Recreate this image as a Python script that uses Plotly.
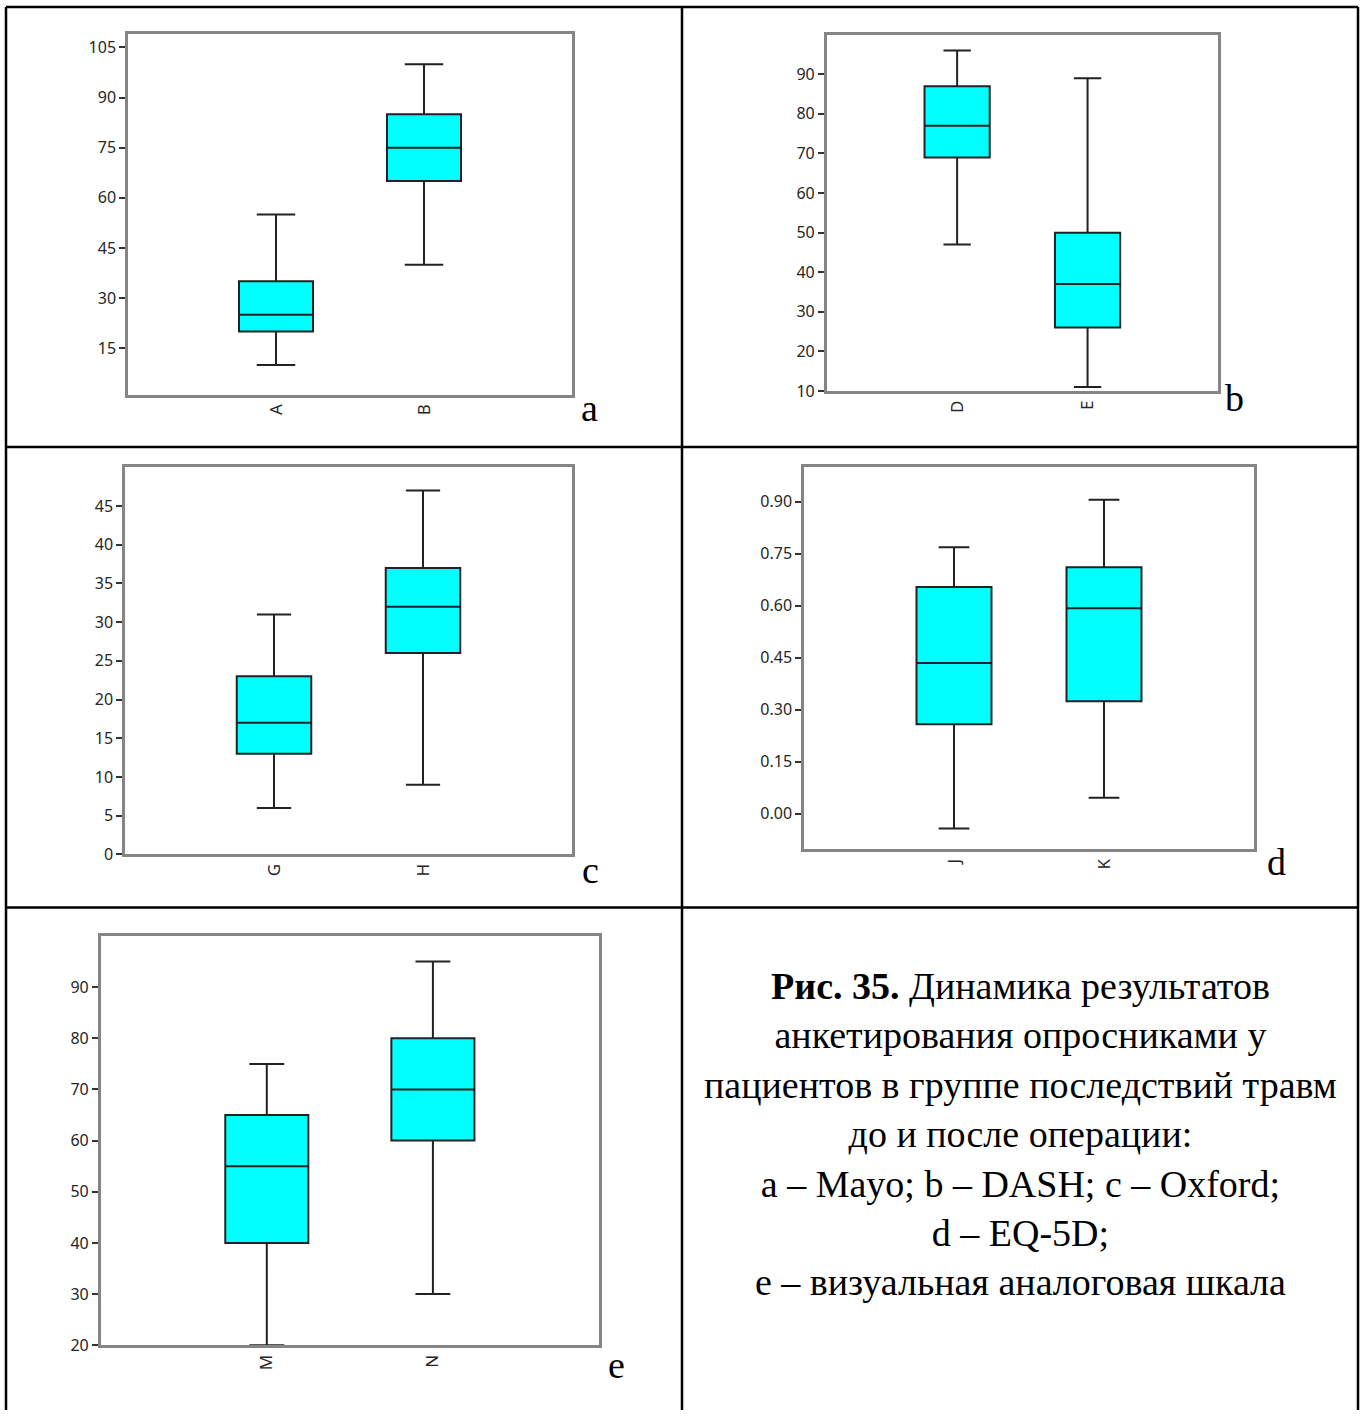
import plotly.graph_objects as go

W, H = 1365, 1421

# ---- data ----
cats_a = ["A", "B"]
a_low = [10, 40]; a_q1 = [20, 65]; a_med = [25, 75]; a_q3 = [35, 85]; a_high = [55, 100]
a_ticks = [15, 30, 45, 60, 75, 90, 105]

cats_b = ["D", "E"]
b_low = [47, 11]; b_q1 = [69, 26]; b_med = [77, 37]; b_q3 = [87, 50]; b_high = [96, 89]
b_ticks = [10, 20, 30, 40, 50, 60, 70, 80, 90]

cats_c = ["G", "H"]
c_low = [6, 9]; c_q1 = [13, 26]; c_med = [17, 32]; c_q3 = [23, 37]; c_high = [31, 47]
c_ticks = [0, 5, 10, 15, 20, 25, 30, 35, 40, 45]

cats_d = ["J", "K"]
d_low = [-0.043, 0.046]; d_q1 = [0.258, 0.324]; d_med = [0.435, 0.593]; d_q3 = [0.654, 0.711]; d_high = [0.769, 0.906]
d_ticks = [0.0, 0.15, 0.30, 0.45, 0.60, 0.75, 0.90]

cats_e = ["M", "N"]
e_low = [20, 30]; e_q1 = [40, 60]; e_med = [55, 70]; e_q3 = [65, 80]; e_high = [75, 95]
e_ticks = [20, 30, 40, 50, 60, 70, 80, 90]

caption_lines = [
    "<b>Рис. 35.</b> Динамика результатов",
    "анкетирования опросниками у",
    "пациентов в группе последствий травм",
    "до и после операции:",
    "a – Mayo; b – DASH; c – Oxford;",
    "d – EQ-5D;",
    "e – визуальная аналоговая шкала",
]
panel_letters = ["a", "b", "c", "d", "e"]

# ---- layout geometry (pixels) ----
def px(x):
    return x / W

def py(y):
    return 1 - y / H

panels = [
    # (cats, low, q1, med, q3, high, ticks, yrange, domain px (l, t, r, b), tickformat, whiskerwidth)
    (cats_a, a_low, a_q1, a_med, a_q3, a_high, a_ticks, [1.1, 109.1], (128, 34, 572, 397.7), None, 0.52),
    (cats_b, b_low, b_q1, b_med, b_q3, b_high, b_ticks, [10, 100], (826.7, 35, 1218, 394), None, 0.42),
    (cats_c, c_low, c_q1, c_med, c_q3, c_high, c_ticks, [0, 50], (125, 471, 572, 861), None, 0.46),
    (cats_d, d_low, d_q1, d_med, d_q3, d_high, d_ticks, [-0.103, 1.0], (804, 470.7, 1254, 856), ".2f", 0.41),
    (cats_e, e_low, e_q1, e_med, e_q3, e_high, e_ticks, [20, 100], (100.7, 943.3, 599, 1355.7), None, 0.42),
]

fig = go.Figure()
AX_COLOR = "#858585"
Y_FONT = dict(family="Noto Sans", size=16, color="#262626")
X_FONT = dict(family="Noto Sans", size=17, color="#262626")

for i, (cats, lo, q1, med, q3, hi, ticks, yr, dom, tf, ww) in enumerate(panels):
    n = "" if i == 0 else str(i + 1)
    fig.add_trace(go.Box(
        x=cats, q1=q1, median=med, q3=q3, lowerfence=lo, upperfence=hi,
        boxpoints=False, width=0.5, whiskerwidth=ww,
        fillcolor="#00ffff", line=dict(color="#222222", width=2),
        xaxis="x" + n, yaxis="y" + n, showlegend=False, hoverinfo="skip",
    ))
    l, t, r, b = dom
    fig.layout["xaxis" + n] = dict(
        domain=[px(l), px(r)], anchor="y" + n, type="category",
        range=[-1, 2], showline=True, mirror=True, linecolor=AX_COLOR, linewidth=2.5,
        showgrid=False, zeroline=False, ticks="", tickangle=-90,
        tickfont=X_FONT,
    )
    fig.layout["yaxis" + n] = dict(
        domain=[py(b), py(t)], anchor="x" + n, range=yr,
        showline=True, mirror=True, linecolor=AX_COLOR, linewidth=2.5,
        showgrid=False, zeroline=False, ticks="outside", ticklen=6,
        tickwidth=1.5, tickcolor="#333333", tickvals=ticks,
        tickformat=tf, tickfont=Y_FONT,
    )

# table borders
shapes = []
lines = [
    (6, 7, 1358, 7), (6, 7, 6, 1421), (1358, 7, 1358, 1421), (682, 7, 682, 1421),
    (6, 450.5, 1358, 450.5), (6, 914.5, 1358, 914.5),
]
for x0, y0, x1, y1 in lines:
    shapes.append(dict(type="line", xref="paper", yref="paper",
                       x0=px(x0), y0=py(y0), x1=px(x1), y1=py(y1),
                       line=dict(color="black", width=2.5)))
fig.update_layout(shapes=shapes)

SERIF = "Liberation Serif"
letter_pos = [(589, 411), (1234, 401), (590, 877), (1276, 869), (616, 1376)]
for letter, (x, y) in zip(panel_letters, letter_pos):
    fig.add_annotation(text=letter, x=px(x), y=py(y), xref="paper", yref="paper",
                       showarrow=False, xanchor="center", yanchor="middle",
                       font=dict(family=SERIF, size=38, color="black"))

fig.add_annotation(text="<br>".join(caption_lines), x=px(1020), y=py(1143),
                   xref="paper", yref="paper", showarrow=False,
                   xanchor="center", yanchor="middle", align="center",
                   font=dict(family=SERIF, size=38, color="black"))

fig.update_layout(width=W, height=H, margin=dict(l=0, r=0, t=0, b=0),
                  paper_bgcolor="white", plot_bgcolor="white")

fig.write_html("out.html", config={"displayModeBar": False},
               post_script="document.body.style.margin='0';document.documentElement.style.overflow='hidden';")
